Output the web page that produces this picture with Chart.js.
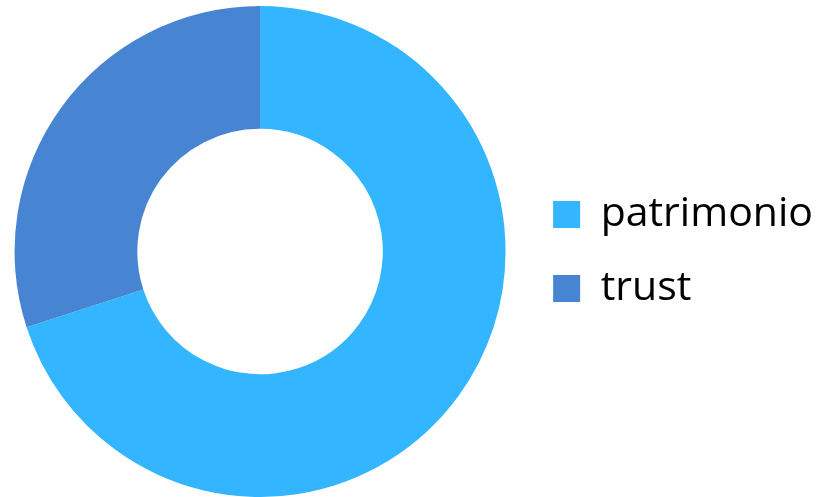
<!DOCTYPE html>
<html>
<head>
<meta charset="utf-8">
<script src="https://cdn.jsdelivr.net/npm/chart.js@4"></script>
<style>
  html, body { margin: 0; padding: 0; background: #fff; }
  #wrap { width: 823px; height: 497px; }
</style>
</head>
<body>
<div id="wrap"><canvas id="myChart"></canvas></div>
<script>
// dados da rosca
const labels = ['patrimonio', 'trust']
const values = [70, 30]
const colors = ['#33b5ff', '#4785d3']

let ctx = document.getElementById('myChart').getContext('2d')

let donut = new Chart(ctx, {
    type: 'doughnut',
    data: {
        labels: labels,
        datasets: [
        {
            data: values,
            backgroundColor: colors,
            borderWidth: 0
        }
    ]
    },
    options: {
        responsive: true,
        maintainAspectRatio: false,
        animation: false,
        cutout: '50%',
        layout: { padding: { top: 6, bottom: 0, left: -9, right: 0 } },
        plugins: {
            tooltip: { enabled: false },
            legend: {
                position: 'right',
                labels: {
                    color: '#000',
                    boxWidth: 27,
                    boxHeight: 27,
                    padding: 33,
                    font: { family: 'Open Sans', size: 41 }
                }
            }
        }
    }
});
</script>
</body>
</html>
